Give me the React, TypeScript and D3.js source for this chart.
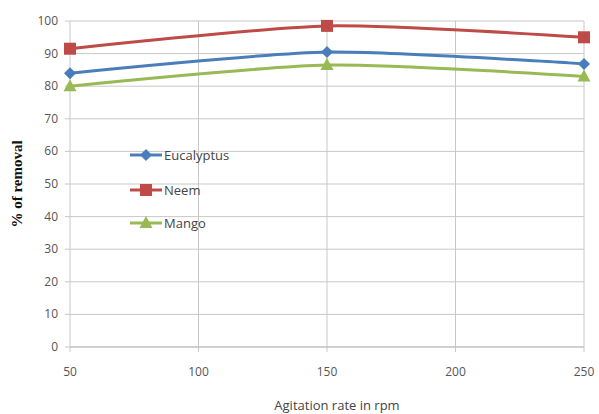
import React from "react";
import * as d3 from "d3";

const rpm = [50, 150, 250];
const eucalyptus = [84, 90.5, 86.8];
const neem = [91.5, 98.5, 95];
const mango = [80, 86.5, 83];
const yTicks = [0, 10, 20, 30, 40, 50, 60, 70, 80, 90, 100];
const xTicks = [50, 100, 150, 200, 250];

const series = [
  { name: "Eucalyptus", values: eucalyptus, color: "#4a7ebb", marker: "diamond" },
  { name: "Neem", values: neem, color: "#be4b48", marker: "square" },
  { name: "Mango", values: mango, color: "#98b954", marker: "triangle" },
];

const W = 599, H = 414;
const L = 70, R = 584, T = 21, B = 347;

function Marker({ type, x, y, color }: { type: string; x: number; y: number; color: string }) {
  if (type === "square") return <rect x={x - 6} y={y - 6} width={12} height={12} fill={color} />;
  if (type === "diamond") return <path d={`M${x},${y - 6}L${x + 6},${y}L${x},${y + 6}L${x - 6},${y}Z`} fill={color} />;
  return <path d={`M${x},${y - 7}L${x + 6.5},${y + 5}L${x - 6.5},${y + 5}Z`} fill={color} />;
}

export default function App() {
  const x = d3.scaleLinear().domain([50, 250]).range([L, R]);
  const y = d3.scaleLinear().domain([0, 100]).range([B, T]);
  const line = d3.line<number>().x((_, i) => x(rpm[i])).y((d) => y(d)).curve(d3.curveCardinal.tension(0.3));
  const font = "'Liberation Sans Narrow', 'Open Sans', sans-serif";
  const legendY = [155, 190, 223];
  return (
    <svg width={W} height={H} style={{ position: "absolute", left: 0, top: 0, background: "#fff" }}>
      {yTicks.map((t) => (
        <g key={"y" + t}>
          <line x1={L - 5} x2={R} y1={y(t)} y2={y(t)} stroke="#c8c8c8" strokeWidth={1} />
          <text x={L - 12} y={y(t) + 4} textAnchor="end" fontSize={12} fill="#555" fontFamily={font}>{t}</text>
        </g>
      ))}
      {xTicks.map((t) => (
        <g key={"x" + t}>
          <line x1={x(t)} x2={x(t)} y1={T} y2={B + 5} stroke="#c8c8c8" strokeWidth={1} />
          <text x={x(t)} y={B + 29} textAnchor="middle" fontSize={12} fill="#555" fontFamily={font}>{t}</text>
        </g>
      ))}
      <line x1={L} x2={R} y1={B} y2={B} stroke="#bdbdbd" strokeWidth={1.2} />
      {series.map((s) => (
        <g key={s.name}>
          <path d={line(s.values) || ""} fill="none" stroke={s.color} strokeWidth={3} />
          {s.values.map((v, i) => (
            <Marker key={i} type={s.marker} x={x(rpm[i])} y={y(v)} color={s.color} />
          ))}
        </g>
      ))}
      {series.map((s, i) => (
        <g key={"lg" + s.name}>
          <line x1={130} x2={162} y1={legendY[i]} y2={legendY[i]} stroke={s.color} strokeWidth={3} />
          <Marker type={s.marker} x={146} y={legendY[i]} color={s.color} />
          <text x={164} y={legendY[i] + 5} fontSize={13} fill="#444" fontFamily={font}>{s.name}</text>
        </g>
      ))}
      <text transform={`translate(22,${(T + B) / 2}) rotate(-90)`} textAnchor="middle" fontSize={15} fontWeight="bold" fontFamily="'Liberation Serif', serif" fill="#111">% of removal</text>
      <text x={337} y={410} textAnchor="middle" fontSize={13} fill="#444" fontFamily={font}>Agitation rate in rpm</text>
    </svg>
  );
}
